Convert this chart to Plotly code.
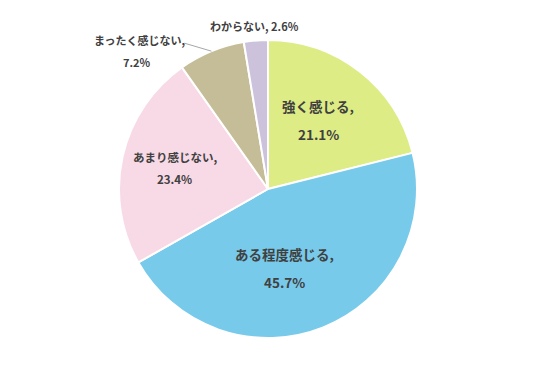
import math
import plotly.graph_objects as go

labels = ["強く感じる", "ある程度感じる", "あまり感じない", "まったく感じない", "わからない"]
values = [21.1, 45.7, 23.4, 7.2, 2.6]
colors = ["#DDEC84", "#78CAEB", "#F8D9E6", "#C5BD97", "#CDC2DB"]

W, H = 536, 380
ML, MR, MT, MB = 110, 126, 32, 50
pw, ph = W - ML - MR, H - MT - MB
cx, cy = ML + pw / 2, MT + ph / 2
R = min(pw, ph) / 2


def to_paper(px, py):
    return (px - ML) / pw, 1 - (py - MT) / ph


FONT = "Noto Sans CJK JP"
TXT = "#404040"

fig = go.Figure(go.Pie(
    labels=labels, values=values, sort=False, direction="clockwise", rotation=0,
    marker=dict(colors=colors, line=dict(color="white", width=2)),
    textinfo="none", hoverinfo="label+percent", showlegend=False,
))

total = sum(values)
cum = 0
mids = []
for v in values:
    mids.append((cum + v / 2) / total * 2 * math.pi)
    cum += v

# label placement style: (radial fraction, angle offset deg, font size, line spacing)
inside_style = {0: (0.572, -2.0, 13.5, 28), 1: (0.54, 10.3, 13.5, 28), 2: (0.64, 0.0, 11.5, 22)}
ann = []
for i, (rf, da, fs, sp) in inside_style.items():
    a = mids[i] + math.radians(da)
    px = cx + math.sin(a) * R * rf
    py = cy - math.cos(a) * R * rf
    for text, dy in ((f"<b>{labels[i]},</b>", -sp / 2), (f"<b>{values[i]}%</b>", sp / 2)):
        x, y = to_paper(px, py + dy)
        ann.append(dict(x=x, y=y, xref="paper", yref="paper", text=text, showarrow=False,
                        font=dict(family=FONT, size=fs, color=TXT), xanchor="center", yanchor="middle"))

# わからない outside label
a = mids[4]
px = cx + math.sin(a) * R * 1.1
py = cy - math.cos(a) * R * 1.1
x, y = to_paper(px, py)
ann.append(dict(x=x, y=y, xref="paper", yref="paper", text=f"<b>{labels[4]}, {values[4]}%</b>",
                showarrow=False, font=dict(family=FONT, size=11, color=TXT),
                xanchor="center", yanchor="middle"))

# まったく感じない outside label with leader line
a = mids[3]
ex = cx + math.sin(a) * R
ey = cy - math.cos(a) * R
for text, ox, oy in ((f"<b>{labels[3]},</b>", -72, -11), (f"<b>{values[3]}%</b>", -74, 11)):
    x, y = to_paper(ex + ox, ey + oy)
    ann.append(dict(x=x, y=y, xref="paper", yref="paper", text=text, showarrow=False,
                    font=dict(family=FONT, size=11, color=TXT), xanchor="center", yanchor="middle"))
x0, y0 = to_paper(ex, ey)
x1, y1 = to_paper(ex - 27, ey - 8)

fig.update_layout(
    width=W, height=H, margin=dict(l=ML, r=MR, t=MT, b=MB),
    paper_bgcolor="white", plot_bgcolor="white",
    annotations=ann,
    shapes=[dict(type="line", xref="paper", yref="paper", x0=x0, y0=y0, x1=x1, y1=y1,
                 line=dict(color="#A6A6A6", width=1))],
)
fig.write_html("out.html")
